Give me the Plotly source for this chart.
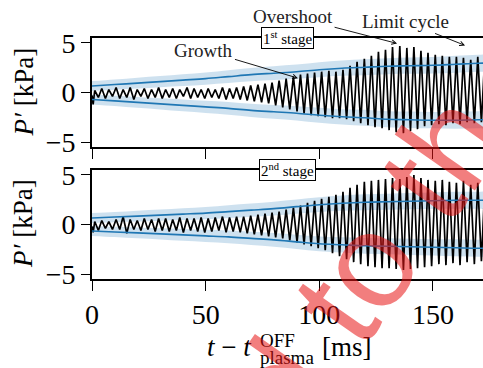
import plotly.graph_objects as go

# ---------------- data ----------------
t_peak = [1.2, 4.3, 7.4, 10.6, 13.7, 16.8, 19.9, 23.0, 26.2, 29.3,
          32.4, 35.5, 38.6, 41.8, 44.9, 48.0, 51.1, 54.2, 57.4, 60.5,
          63.6, 66.7, 69.8, 73.0, 76.1, 79.2, 82.3, 85.4, 88.6, 91.7,
          94.8, 97.9, 101.0, 104.2, 107.3, 110.4, 113.5, 116.6, 119.8, 122.9,
          126.0, 129.1, 132.2, 135.4, 138.5, 141.6, 144.7, 147.8, 151.0, 154.1,
          157.2, 160.3, 163.4, 166.6, 169.7, 172.8]
t_trough = [2.8, 5.9, 9.0, 12.2, 15.3, 18.4, 21.5, 24.6, 27.8, 30.9,
            34.0, 37.1, 40.2, 43.4, 46.5, 49.6, 52.7, 55.8, 59.0, 62.1,
            65.2, 68.3, 71.4, 74.6, 77.7, 80.8, 83.9, 87.0, 90.2, 93.3,
            96.4, 99.5, 102.6, 105.8, 108.9, 112.0, 115.1, 118.2, 121.4, 124.5,
            127.6, 130.7, 133.8, 137.0, 140.1, 143.2, 146.3, 149.4, 152.6, 155.7,
            158.8, 161.9, 165.0, 168.2, 171.3, 174.4]

start_t = [0.0, 0.5]
top_start = [-0.3, -1.2]
bot_start = [-0.2, -0.8]

top_peak = [0.2, 0.4, 0.3, 0.5, 0.3, 0.5, 0.3, 0.4, 0.3, 0.5,
            0.3, 0.4, 0.3, 0.5, 0.4, 0.3, 0.4, 0.3, 0.5, 0.4,
            0.5, 0.6, 0.7, 0.8, 0.9, 1.0, 1.2, 1.4, 1.6, 1.8,
            1.9, 2.0, 2.1, 2.2, 2.1, 2.3, 2.7, 3.1, 3.4, 3.7,
            4.1, 4.3, 4.6, 4.7, 4.5, 4.6, 4.2, 4.0, 3.8, 3.7,
            3.6, 3.6, 3.5, 3.3, 3.6, 3.7]
top_trough = [-0.5, -0.6, -0.4, -0.6, -0.5, -0.7, -0.4, -0.6, -0.5, -0.6,
              -0.5, -0.6, -0.4, -0.6, -0.5, -0.6, -0.5, -0.6, -0.7, -0.6,
              -0.7, -0.8, -0.9, -1.0, -1.1, -1.3, -1.5, -1.7, -1.9, -2.1,
              -2.3, -2.4, -2.5, -2.6, -2.6, -2.7, -2.9, -3.1, -3.3, -3.5,
              -3.6, -3.8, -4.0, -4.1, -3.9, -3.7, -3.4, -3.3, -3.2, -3.3,
              -3.1, -3.2, -3.0, -3.1, -3.0, -3.0]

bot_peak = [0.3, 0.4, 0.3, 0.5, 0.8, 0.5, 0.4, 0.6, 0.5, 0.6,
            0.6, 0.5, 0.7, 0.6, 0.6, 0.7, 0.6, 0.7, 0.8, 0.7,
            0.8, 0.8, 0.9, 1.0, 1.1, 1.2, 1.3, 1.5, 1.7, 1.9,
            2.2, 2.4, 2.6, 2.8, 3.0, 3.3, 3.7, 4.0, 4.3, 4.4,
            4.5, 4.6, 4.7, 4.6, 4.8, 5.0, 4.7, 4.5, 4.4, 4.5,
            4.3, 4.2, 4.4, 4.0, 4.2, 3.9]
bot_trough = [-0.6, -0.4, -0.5, -0.5, -0.9, -0.5, -0.6, -0.5, -0.7, -0.6,
              -0.7, -0.6, -0.8, -0.6, -0.7, -0.8, -0.7, -0.6, -0.8, -0.7,
              -0.8, -0.9, -1.0, -1.1, -1.2, -1.3, -1.4, -1.6, -1.8, -2.0,
              -2.2, -2.4, -2.6, -2.9, -3.2, -3.5, -3.8, -4.0, -4.2, -4.3,
              -4.4, -4.4, -4.5, -4.6, -4.5, -4.4, -4.3, -4.2, -4.0, -4.1,
              -3.9, -4.1, -3.8, -4.0, -3.7, -3.9]

t_env = [0, 10, 20, 30, 40, 50, 60, 70, 80, 90, 100, 110, 120, 130, 140, 150, 160, 170, 180]
top_env_hi = [0.65, 0.8, 0.95, 1.1, 1.25, 1.4, 1.6, 1.8, 1.95, 2.1, 2.3, 2.45, 2.55, 2.65, 2.7, 2.75, 2.85, 2.95, 3.0]
top_env_lo = [-0.7, -0.85, -1.0, -1.15, -1.3, -1.45, -1.6, -1.8, -1.95, -2.1, -2.3, -2.45, -2.55, -2.7, -2.75, -2.8, -2.8, -2.75, -2.75]
bot_env_hi = [0.65, 0.75, 0.85, 0.95, 1.05, 1.15, 1.3, 1.45, 1.6, 1.8, 2.0, 2.15, 2.25, 2.3, 2.35, 2.4, 2.45, 2.45, 2.45]
bot_env_lo = [-0.65, -0.75, -0.85, -0.95, -1.05, -1.15, -1.25, -1.4, -1.55, -1.75, -1.95, -2.05, -2.15, -2.2, -2.25, -2.3, -2.35, -2.4, -2.4]
band_hw = [0.5, 0.52, 0.55, 0.57, 0.6, 0.62, 0.65, 0.67, 0.7, 0.72, 0.75, 0.77, 0.8, 0.8, 0.82, 0.82, 0.85, 0.85, 0.85]

x_ticks = [0, 50, 100, 150]
y_ticks = [-5, 0, 5]
y_ticktext = ["\u22125", "0", "5"]

# ---------------- helpers ----------------
def interleave(st_t, st_y, pk, tr):
    xs, ys = list(st_t), list(st_y)
    for a, b, c, d in zip(t_peak, pk, t_trough, tr):
        xs += [a, c]
        ys += [b, d]
    return xs, ys

BLUE = "#1f77b4"
BAND = "rgba(31,119,180,0.22)"
SERIF = "Liberation Serif"

fig = go.Figure()

def add_panel(xa, ya, env_hi, env_lo, st_y, pk, tr):
    for env in (env_hi, env_lo):
        upper = [v + h for v, h in zip(env, band_hw)]
        lower = [v - h for v, h in zip(env, band_hw)]
        fig.add_trace(go.Scatter(x=t_env + t_env[::-1], y=upper + lower[::-1], fill="toself",
                                 fillcolor=BAND, line=dict(width=0), mode="lines",
                                 line_shape="spline", xaxis=xa, yaxis=ya, hoverinfo="skip",
                                 showlegend=False))
    xs, ys = interleave(start_t, st_y, pk, tr)
    fig.add_trace(go.Scatter(x=xs, y=ys, mode="lines", line=dict(color="black", width=1.7),
                             xaxis=xa, yaxis=ya, showlegend=False))
    for env in (env_hi, env_lo):
        fig.add_trace(go.Scatter(x=t_env, y=env, mode="lines", line=dict(color=BLUE, width=1.6),
                                 line_shape="spline", xaxis=xa, yaxis=ya, showlegend=False))

add_panel("x", "y", top_env_hi, top_env_lo, top_start, top_peak, top_trough)
add_panel("x2", "y2", bot_env_hi, bot_env_lo, bot_start, bot_peak, bot_trough)

W, H = 483, 368
L, R, T, B = 92, 0, 38, 89
PW, PH = W - L - R, H - T - B

def pp(xp, yp):
    return (xp - L) / PW, (H - B - yp) / PH

axis_common = dict(range=[0, 172], tickvals=x_ticks, ticks="outside", ticklen=10, tickwidth=1.4,
                   tickcolor="black", showline=True, linecolor="black", linewidth=1.6, mirror=True,
                   showgrid=False, zeroline=False, automargin=False,
                   tickfont=dict(family=SERIF, size=28, color="black"))
yaxis_common = dict(range=[-5.5, 5.5], tickvals=y_ticks, ticktext=y_ticktext, ticks="outside",
                    ticklen=9, tickwidth=1.4, tickcolor="black", showline=True, linecolor="black",
                    linewidth=1.6, showgrid=False, zeroline=False, automargin=False,
                    tickfont=dict(family=SERIF, size=28, color="black"))

top_dom = [1 - 109 / PH, 1]
bot_dom = [0, 109 / PH]

fig.update_layout(
    template="none",
    width=W, height=H, margin=dict(l=L, r=R, t=T, b=B, pad=0, autoexpand=False),
    paper_bgcolor="white", plot_bgcolor="white",
    xaxis=dict(axis_common, anchor="y", showticklabels=False, matches="x2"),
    xaxis2=dict(axis_common, anchor="y2"),
    yaxis=dict(yaxis_common, domain=top_dom, anchor="x"),
    yaxis2=dict(yaxis_common, domain=bot_dom, anchor="x2"),
    font=dict(family=SERIF, color="black"),
)

ann = []
# y titles
for ycen in (92.5, 224):
    x0, y0 = pp(23, ycen)
    ann.append(dict(text="<i>P′</i> [kPa]", x=x0, y=y0, xref="paper", yref="paper",
                    textangle=-90, showarrow=False, font=dict(size=27, family=SERIF),
                    xanchor="center", yanchor="middle"))
# x title pieces
x0, y0 = pp(205, 347)
ann.append(dict(text="<i>t</i> − <i>t</i>", x=x0, y=y0, xref="paper", yref="paper", showarrow=False,
                xanchor="left", yanchor="middle", font=dict(size=27, family=SERIF)))
x0, y0 = pp(258, 340)
ann.append(dict(text="OFF", x=x0, y=y0, xref="paper", yref="paper", showarrow=False,
                xanchor="left", yanchor="middle", font=dict(size=19, family=SERIF)))
x0, y0 = pp(258, 357)
ann.append(dict(text="plasma", x=x0, y=y0, xref="paper", yref="paper", showarrow=False,
                xanchor="left", yanchor="middle", font=dict(size=19, family=SERIF)))
x0, y0 = pp(320, 347)
ann.append(dict(text="[ms]", x=x0, y=y0, xref="paper", yref="paper", showarrow=False,
                xanchor="left", yanchor="middle", font=dict(size=27, family=SERIF)))

# stage boxes
for txt, ya in (("1<sup>st</sup> stage", "y"), ("2<sup>nd</sup> stage", "y2")):
    ann.append(dict(text=txt, x=86, y=5.5, xref="x", yref=ya, showarrow=False,
                    xanchor="center", yanchor="middle", bgcolor="white", bordercolor="black",
                    borderwidth=1, borderpad=1, font=dict(size=15, family=SERIF)))

# arrows
for txt, tx, ty, axp, ayp in (("Growth", 90.6, 1.45, -94, -28),
                               ("Overshoot", 134.2, 4.95, -104, -27),
                               ("Limit cycle", 164.1, 4.75, -60, -24)):
    ann.append(dict(text=txt, x=tx, y=ty, xref="x", yref="y", ax=axp, ay=ayp,
                    showarrow=True, arrowhead=5, arrowsize=1, arrowwidth=0.9, arrowcolor="black",
                    font=dict(size=19, family=SERIF, color="#222")))

# watermark
x0, y0 = pp(366, 264)
ann.append(dict(text="d to th", x=x0, y=y0, xref="paper", yref="paper", showarrow=False,
                textangle=-55, xanchor="center", yanchor="middle",
                font=dict(size=135, family="Liberation Sans", color="rgba(232,20,20,0.55)")))

fig.update_layout(annotations=ann)
fig.write_html("out.html", config={"displayModeBar": False},
               post_script="document.body.style.margin='0px';document.body.style.overflow='hidden';")
